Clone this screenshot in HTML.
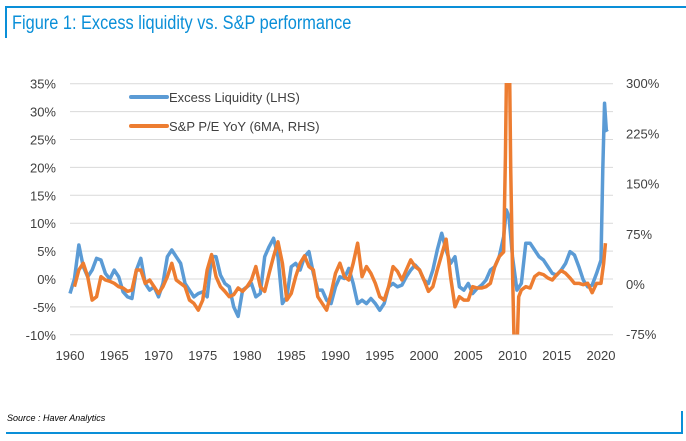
<!DOCTYPE html>
<html><head><meta charset="utf-8"><style>
html,body{margin:0;padding:0;background:#fff;}
body{width:686px;height:441px;position:relative;overflow:hidden;font-family:"Liberation Sans",sans-serif;}
</style></head><body>
<div style="position:absolute;left:5px;top:6px;width:681px;height:2px;background:#0a8fd8"></div>
<div style="position:absolute;left:5px;top:6px;width:2px;height:32px;background:#0a8fd8"></div>
<div style="position:absolute;left:12px;top:13px;font-size:19px;color:#0a8fd8;white-space:nowrap;transform:scaleX(0.86);transform-origin:left top">Figure 1: Excess liquidity vs. S&amp;P performance</div>
<div style="position:absolute;left:7px;top:413px;font-size:9px;font-style:italic;color:#000">Source : Haver Analytics</div>
<div style="position:absolute;left:6px;top:432px;width:677px;height:2px;background:#0a8fd8"></div>
<div style="position:absolute;left:681px;top:411px;width:2px;height:23px;background:#0a8fd8"></div>
<svg id="chart" width="686" height="441" style="position:absolute;left:0;top:0">
<defs><clipPath id="pc"><rect x="60" y="83" width="560" height="251.5"/></clipPath></defs>
<g id="grid"></g><g id="axes"></g><g id="lines" clip-path="url(#pc)"></g><g id="legend"></g>
</svg>
<script>
const blueYears=[1960,1960.5,1961,1961.5,1962,1962.5,1963,1963.5,1964,1964.5,1965,1965.5,1966,1966.5,1967,1967.5,1968,1968.5,1969,1969.5,1970,1970.5,1971,1971.5,1972,1972.5,1973,1973.5,1974,1974.5,1975,1975.5,1976,1976.5,1977,1977.5,1978,1978.5,1979,1979.5,1980,1980.5,1981,1981.5,1982,1982.5,1983,1983.5,1984,1984.5,1985,1985.5,1986,1986.5,1987,1987.5,1988,1988.5,1989,1989.5,1990,1990.5,1991,1991.5,1992,1992.5,1993,1993.5,1994,1994.5,1995,1995.5,1996,1996.5,1997,1997.5,1998,1998.5,1999,1999.5,2000,2000.5,2001,2001.5,2002,2002.5,2003,2003.5,2004,2004.5,2005,2005.5,2006,2006.5,2007,2007.5,2008,2008.5,2009,2009.3,2009.6,2010,2010.5,2011,2011.5,2012,2012.5,2013,2013.5,2014,2014.5,2015,2015.5,2016,2016.5,2017,2017.5,2018,2018.5,2019,2019.5,2020,2020.2,2020.4,2020.6,2020.7];
const blueValues=[-2.6,0,6.1,2.2,0.4,1.6,3.7,3.4,1,0,1.6,0.4,-2.3,-3.2,-3.5,1.6,3.7,-0.8,-2,-1.4,-3.2,-0.8,4,5.2,4,2.8,-0.8,-2,-3.2,-2.6,-2.3,-3.2,4,4,0.7,-0.8,-1.4,-5,-6.7,-2,-1.4,-0.8,-3.2,-2.6,4,5.8,7.3,4,-4.4,-3.2,2.2,2.8,1.6,4,4.9,1,-2,-2,-3.8,-4.4,-1.4,0.4,0.1,1.9,-0.8,-4.4,-3.8,-4.4,-3.5,-4.4,-5.6,-4.4,-1.4,-0.8,-1.4,-1.1,0.4,1.6,2.5,1.6,-0.2,-0.8,1.6,5.2,8.2,5.2,2.8,4,-1.4,-2,-0.8,-2.6,-1.7,-1.1,-0.2,1.6,2.2,4,7.6,12.4,11.2,4,-2,-0.8,6.4,6.4,5.2,4,3.4,2.2,1,0.7,1.6,2.8,4.9,4.3,2.2,-0.2,-1.4,-1.1,1,3.4,19.5,31.5,26.7,26.4];
const orangeYears=[1960.5,1961,1961.5,1962,1962.5,1963,1963.5,1964,1964.5,1965,1965.5,1966,1966.5,1967,1967.5,1968,1968.5,1969,1969.5,1970,1970.5,1971,1971.5,1972,1972.5,1973,1973.5,1974,1974.5,1975,1975.5,1976,1976.5,1977,1977.5,1978,1978.5,1979,1979.5,1980,1980.5,1981,1981.5,1982,1982.5,1983,1983.5,1984,1984.5,1985,1985.5,1986,1986.5,1987,1987.5,1988,1988.5,1989,1989.5,1990,1990.5,1991,1991.5,1992,1992.5,1993,1993.5,1994,1994.5,1995,1995.5,1996,1996.5,1997,1997.5,1998,1998.5,1999,1999.5,2000,2000.5,2001,2001.5,2002,2002.5,2003,2003.5,2004,2004.5,2005,2005.5,2006,2006.5,2007,2007.5,2008,2008.5,2009,2009.2,2009.4,2009.6,2009.8,2010,2010.2,2010.5,2010.7,2011,2011.5,2012,2012.5,2013,2013.5,2014,2014.5,2015,2015.5,2016,2016.5,2017,2017.5,2018,2018.5,2019,2019.5,2020,2020.3,2020.5];
const orangeValues=[-4,21,31,11,-24,-19,11,6,4,1,-4,-6,-11,-9,21,21,1,6,-4,-14,-4,11,31,6,1,-4,-24,-29,-39,-24,21,44,11,-4,-11,-19,-16,-6,-11,-4,6,26,-4,-11,16,41,63,31,-24,-14,11,31,42,26,21,-19,-29,-39,-14,16,31,11,6,31,61,11,26,16,1,-19,-24,-4,26,19,6,21,36,26,21,6,-11,-4,21,44,67,11,-34,-19,-24,-24,-4,-6,-6,-4,1,26,41,48,190,400,400,171,21,-100,-100,-19,-9,-4,-6,11,16,14,9,6,14,20,16,9,1,1,-1,1,-13,1,1,31,61];
const leftTicks=[35,30,25,20,15,10,5,0,-5,-10];
const rightTicks=[300,225,150,75,0,-75];
const xTicks=[1960,1965,1970,1975,1980,1985,1990,1995,2000,2005,2010,2015,2020];
const NS='http://www.w3.org/2000/svg';
const X=y=>70+(y-1960)*8.85;
const YL=v=>279-v*5.58;
const YR=v=>284-v*50.2/75;
function mk(tag,attrs,parent){const e=document.createElementNS(NS,tag);for(const k in attrs)e.setAttribute(k,attrs[k]);parent.appendChild(e);return e;}
const grid=document.getElementById('grid'),axes=document.getElementById('axes'),lines=document.getElementById('lines'),legend=document.getElementById('legend');
leftTicks.forEach(t=>{
  const l=mk('line',{x1:70,x2:613,y1:YL(t),y2:YL(t),stroke:'#d9d9d9','stroke-width':1},grid);
  
  
  const tx=mk('text',{x:56,y:YL(t)+5,'text-anchor':'end','font-size':13,fill:'#404040'},axes);
  tx.textContent=t+'%';
  
  
});
rightTicks.forEach(t=>{
  const tx=mk('text',{x:626,y:YR(t)+5,'font-size':13,fill:'#404040'},axes);
  tx.textContent=t+'%';
  
  
});
xTicks.forEach(t=>{
  const tx=mk('text',{x:X(t),y:360,'text-anchor':'middle','font-size':13,fill:'#404040'},axes);
  tx.textContent=t;
  
  
});
const pb=mk('polyline',{points:blueYears.map((y,i)=>X(y)+','+YL(blueValues[i])).join(' '),fill:'none',stroke:'#5b9bd5','stroke-width':3.5,'stroke-linejoin':'round'},lines);


const po=mk('polyline',{points:orangeYears.map((y,i)=>X(y)+','+YR(orangeValues[i])).join(' '),fill:'none',stroke:'#ed7d31','stroke-width':3.5,'stroke-linejoin':'round'},lines);


[['Excess Liquidity (LHS)','#5b9bd5',97],['S&P P/E YoY (6MA, RHS)','#ed7d31',126]].forEach(([lab,c,y])=>{
  const l=mk('line',{x1:131,x2:167,y1:y,y2:y,stroke:c,'stroke-width':4,'stroke-linecap':'round'},legend);
  
  
  const t=mk('text',{x:169,y:y+5,'font-size':13,fill:'#404040'},legend);
  t.textContent=lab;
  
  
});
</script>
</body></html>
